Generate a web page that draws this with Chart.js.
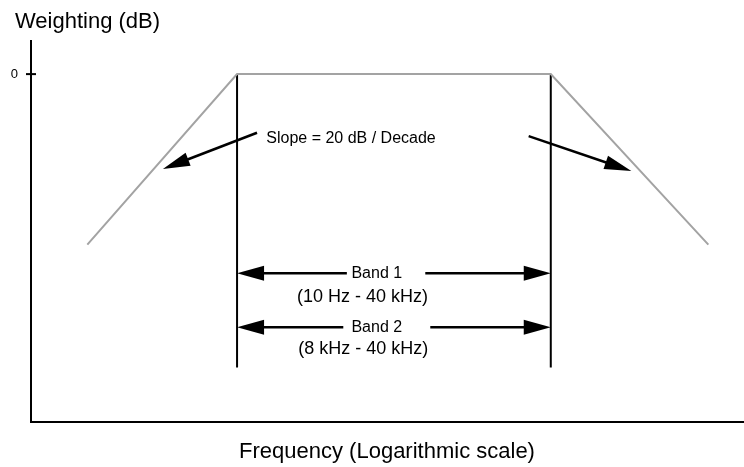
<!DOCTYPE html>
<html lang="en">
<head>
  <meta charset="UTF-8" />
  <title>Band weighting</title>
  <style>
    body {
      margin: 0;
      background: #fff;
    }
    canvas {
      display: block;
    }
  </style>
</head>
<body>
  <canvas id="weightChart" width="744" height="467"></canvas>

  <script src="https://cdn.jsdelivr.net/npm/chart.js"></script>

  <script>
    // Frequency in decades (log scale), weighting in dB
    const respFreq = [0.79, 2.89, 7.29, 9.50];
    const respGain = [-25, 0, 0, -25];

    // band edges (vertical markers)
    const edgeFreq = [2.89, 7.29];
    const edgeGain = [0, -43];

    // band arrows + labels
    const bandNames = ['Band 1', 'Band 2'];
    const bandRanges = ['(10 Hz - 40 kHz)', '(8 kHz - 40 kHz)'];
    const bandArrowGain = [-29.2, -37.1];
    const bandRangeGain = [-32.7, -40.3];
    const bandNameFreq = [4.85, 4.85];
    const bandRangeFreq = [4.65, 4.66];
    // break in each arrow line around the band name
    const bandGapFrom = [4.43, 4.38];
    const bandGapTo = [5.53, 5.60];

    // slope call-out arrows
    const slopeText = 'Slope = 20 dB / Decade';
    const slopeTextPos = [3.30, -9.4];
    const slopeTailX = [3.17, 6.98];
    const slopeTailY = [-8.6, -9.1];
    const slopeTipX = [1.85, 8.42];
    const slopeTipY = [-13.9, -14.2];

    const yTicks = [0];
    const yTitle = 'Weighting (dB)';
    const xTitle = 'Frequency (Logarithmic scale)';

    const FONT = 'Arial, "Liberation Sans", Helvetica, sans-serif';

    function arrow(ctx, x0, y0, x1, y1, len, half) {
      const a = Math.atan2(y1 - y0, x1 - x0);
      const bx = x1 - Math.cos(a) * len, by = y1 - Math.sin(a) * len;
      ctx.beginPath();
      ctx.moveTo(x0, y0);
      ctx.lineTo(bx + Math.cos(a) * 2, by + Math.sin(a) * 2);
      ctx.stroke();
      ctx.beginPath();
      ctx.moveTo(x1, y1);
      ctx.lineTo(bx - Math.sin(a) * half, by + Math.cos(a) * half);
      ctx.lineTo(bx + Math.sin(a) * half, by - Math.cos(a) * half);
      ctx.closePath();
      ctx.fill();
    }

    // axes, titles and call-outs drawn over the scales
    const annotate = {
      id: 'annotate',
      afterDatasetsDraw(chart) {
        const ctx = chart.ctx;
        const xs = chart.scales.x, ys = chart.scales.y;
        const area = chart.chartArea;
        ctx.save();
        ctx.strokeStyle = '#000';
        ctx.fillStyle = '#000';
        ctx.lineWidth = 2;

        // axis lines
        ctx.beginPath();
        ctx.moveTo(area.left, area.top);
        ctx.lineTo(area.left, area.bottom);
        ctx.lineTo(area.right, area.bottom);
        ctx.stroke();

        // y ticks crossing the axis
        ctx.font = '13px ' + FONT;
        ctx.textAlign = 'right';
        ctx.textBaseline = 'middle';
        yTicks.forEach(v => {
          const py = ys.getPixelForValue(v);
          ctx.beginPath();
          ctx.moveTo(area.left - 5, py);
          ctx.lineTo(area.left + 5, py);
          ctx.stroke();
          ctx.fillText(String(v), area.left - 13, py);
        });

        // titles
        ctx.font = '22px ' + FONT;
        ctx.textAlign = 'left';
        ctx.fillText(yTitle, 15, 22);
        ctx.textAlign = 'center';
        ctx.fillText(xTitle, 387, 452);

        // slope call-outs
        ctx.lineWidth = 2.5;
        slopeTailX.forEach((x, i) => {
          arrow(ctx, xs.getPixelForValue(x), ys.getPixelForValue(slopeTailY[i]),
            xs.getPixelForValue(slopeTipX[i]), ys.getPixelForValue(slopeTipY[i]), 27, 7);
        });
        ctx.font = '16px ' + FONT;
        ctx.textAlign = 'left';
        ctx.fillText(slopeText, xs.getPixelForValue(slopeTextPos[0]), ys.getPixelForValue(slopeTextPos[1]));

        // band arrows between the edges, broken around the name
        const xl = xs.getPixelForValue(edgeFreq[0]);
        const xr = xs.getPixelForValue(edgeFreq[1]);
        ctx.textAlign = 'center';
        bandNames.forEach((name, i) => {
          const py = ys.getPixelForValue(bandArrowGain[i]);
          ctx.font = '16px ' + FONT;
          ctx.fillText(name, xs.getPixelForValue(bandNameFreq[i]), py);
          ctx.font = '18px ' + FONT;
          ctx.fillText(bandRanges[i], xs.getPixelForValue(bandRangeFreq[i]), ys.getPixelForValue(bandRangeGain[i]));
          arrow(ctx, xs.getPixelForValue(bandGapFrom[i]), py, xl, py, 27, 7.5);
          arrow(ctx, xs.getPixelForValue(bandGapTo[i]), py, xr, py, 27, 7.5);
        });
        ctx.restore();
      }
    };

    const respPoints = respFreq.map((f, i) => ({ x: f, y: respGain[i] }));
    const edgeSets = edgeFreq.map(f => ({
      data: edgeGain.map(g => ({ x: f, y: g })),
      borderColor: '#000',
      borderWidth: 2,
      pointRadius: 0,
      showLine: true
    }));

    new Chart(document.getElementById('weightChart'), {
      type: 'scatter',
      data: {
        datasets: [{
          data: respPoints,
          borderColor: '#a3a3a3',
          borderWidth: 2,
          pointRadius: 0,
          showLine: true
        }, ...edgeSets]
      },
      options: {
        responsive: false,
        animation: false,
        layout: { padding: { left: 31, top: 40, right: 0, bottom: 45 } },
        plugins: {
          legend: { display: false },
          tooltip: { enabled: false }
        },
        scales: {
          x: { type: 'linear', min: 0, max: 10, display: false },
          y: { type: 'linear', min: -51, max: 5, display: false }
        }
      },
      plugins: [annotate]
    });
  </script>
</body>
</html>
